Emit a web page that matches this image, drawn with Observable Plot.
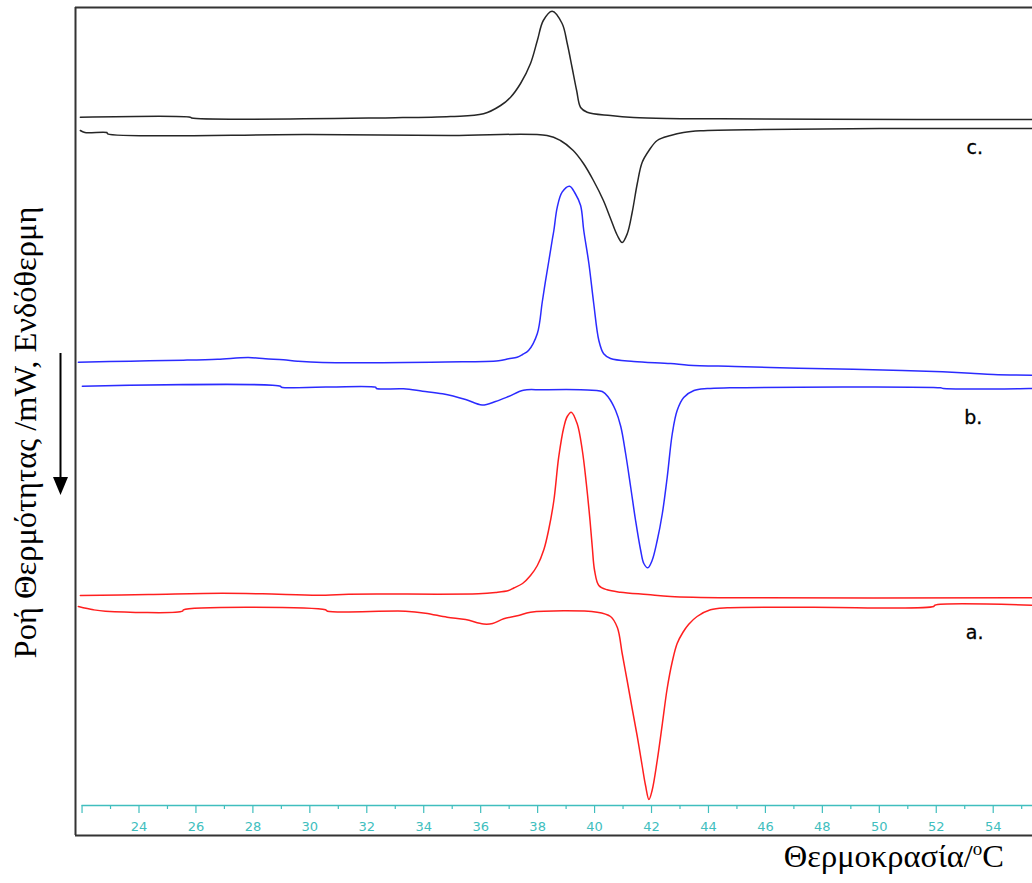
<!DOCTYPE html>
<html><head><meta charset="utf-8">
<script src="https://cdn.jsdelivr.net/npm/d3@7"></script>
<script src="https://cdn.jsdelivr.net/npm/@observablehq/plot@0.6"></script>
<style>body{margin:0;background:#fff}</style>
</head><body><div id="chart"></div>
<script>
// Temperature (°C) and heat flow (arbitrary units, endotherm down)
const cCoolT = [21.94, 25.8, 25.85, 33.0, 34.94, 36.1, 36.7, 37.05, 37.4, 37.75, 37.99, 38.2, 38.51, 38.86, 39.04, 39.21, 39.37, 39.51, 39.74, 40.56, 41.37, 42.55, 44.42, 48.0, 55.38];
const cCoolY = [688.3, 688.3, 687.5, 687.8, 689, 691.7, 700, 708.3, 722, 742, 765, 785, 794.3, 782, 762, 738, 715, 698, 693.3, 690, 688, 687, 686.7, 686.2, 686];
const cHeatT = [21.94, 22.1, 22.87, 22.9, 30.0, 34.94, 38.33, 38.8, 39.25, 39.61, 39.96, 40.31, 40.56, 40.8, 40.97, 41.15, 41.32, 41.5, 41.67, 41.91, 42.2, 42.67, 43.12, 43.72, 46.0, 50.0, 55.38];
const cHeatY = [675, 673, 673, 671.7, 671, 670, 670, 665, 655, 642, 625, 605, 587, 570, 563, 572, 593, 622, 643, 655, 665, 670, 673, 674.7, 676, 677, 677];

const bCoolT = [21.87, 23.7, 25.56, 26.76, 27.84, 28.44, 29.07, 29.57, 30.44, 34.76, 36.63, 36.98, 37.28, 37.47, 37.68, 37.99, 38.16, 38.27, 38.39, 38.51, 38.57, 38.69, 38.86, 39.12, 39.32, 39.51, 39.62, 39.8, 39.97, 40.15, 40.32, 40.56, 41.37, 42.67, 43.3, 44.93, 47.16, 49.09, 50.81, 52.22, 53.21, 54.01, 55.38];
const bCoolY = [443.3, 444.3, 445.3, 446.3, 448, 446.7, 445.7, 444.3, 443, 443.5, 444.7, 446.7, 448.3, 451, 455, 472, 503, 523.3, 544, 565, 575, 598.3, 613.3, 619.3, 612, 600, 575, 542, 502, 465, 451.7, 447, 444, 442, 440.3, 439, 437.3, 436.3, 435, 433.7, 432.3, 431, 430.3];
const bHeatT = [22.01, 28.97, 29.0, 32.31, 32.34, 33.29, 33.96, 34.66, 35.47, 36.05, 36.52, 36.98, 37.5, 38.17, 39.51, 40.27, 40.49, 40.74, 40.92, 41.09, 41.27, 41.44, 41.62, 41.73, 41.87, 42.02, 42.2, 42.38, 42.55, 42.73, 42.9, 43.13, 43.49, 43.96, 44.75, 52.15, 52.25, 55.38];
const bHeatY = [419.3, 419.3, 418.3, 418.3, 417, 416.7, 414.3, 411.7, 406, 400.5, 404, 409, 415.3, 415.7, 415.7, 414, 408, 395, 379, 352, 318, 285, 255, 242, 237.7, 245, 265, 292, 328, 372, 395, 408, 415, 417, 417.7, 417.7, 417, 417];

const aCoolT = [21.94, 24.33, 26.93, 28.9, 30.55, 31.36, 35.92, 36.52, 36.98, 37.16, 37.47, 37.75, 37.99, 38.22, 38.39, 38.57, 38.74, 38.92, 39.04, 39.18, 39.39, 39.57, 39.71, 39.84, 39.92, 40.0, 40.15, 40.44, 40.91, 41.85, 42.67, 44.75, 55.38];
const aCoolY = [210, 211, 212.3, 211.3, 210.3, 211.3, 211.7, 213, 215, 217.5, 222, 230, 240, 256, 276, 305, 348.3, 378.3, 389, 393.3, 381.7, 355, 322, 285, 258.3, 235, 220, 215.7, 213.3, 211, 209, 207.7, 207.7];
const aHeatT = [21.87, 22.4, 22.82, 25.53, 25.56, 30.55, 30.62, 33.36, 34.06, 34.82, 35.47, 36.1, 36.42, 36.81, 37.33, 37.75, 40.09, 40.56, 40.8, 40.97, 41.15, 41.32, 41.5, 41.67, 41.79, 41.91, 42.02, 42.2, 42.38, 42.55, 42.73, 42.9, 43.1, 43.3, 43.6, 44.07, 44.66, 47.58, 51.91, 51.95, 55.38];
const aHeatY = [199, 195.7, 194.3, 194.3, 195.7, 195.7, 194.3, 194.3, 192.3, 188.3, 186, 181.5, 182, 186.7, 190, 193.3, 193.3, 189, 178, 152, 124, 97, 69, 40, 20, 6, 15, 45, 81.7, 117, 144, 162, 173, 181, 189, 195.7, 197.7, 198.3, 199, 200.3, 200.3];

const seriesNames = ["a. cooling", "a. heating", "b. cooling", "b. heating", "c. cooling", "c. heating"];
const seriesColors = ["#ff1f1f", "#ff1f1f", "#2b2bff", "#2b2bff", "#262626", "#262626"];
const curveLabels = ["a.", "b.", "c."];
const curveLabelT = [53.35, 53.3, 53.35];
const curveLabelY = [173, 388, 658];
const tickValues = d3.range(22, 56);
const tickLabels = d3.range(24, 56, 2);
const xTitle = "Θερμοκρασία/";
const yTitle = "Ροή Θερμότητας /mW, Ενδόθερμη";

const seriesData = [[aCoolT, aCoolY], [aHeatT, aHeatY], [bCoolT, bCoolY], [bHeatT, bHeatY], [cCoolT, cCoolY], [cHeatT, cHeatY]]
  .map(([T, Y], i) => T.map((t, j) => ({T: t, v: Y[j], series: seriesNames[i]})));

const teal = "#40bebe";
const xDomain = [21.77, 55.38];
const yDomain = [-30, 798];

const plot = Plot.plot({
  width: 1032, height: 883,
  marginLeft: 75, marginRight: 0, marginTop: 7, marginBottom: 48,
  x: {domain: xDomain, axis: null},
  y: {domain: yDomain, axis: null},
  style: {background: "#fff", overflow: "visible"},
  marks: [
    Plot.ruleY([0], {x1: 22, x2: xDomain[1], stroke: teal, strokeWidth: 1.5}),
    Plot.ruleX(tickValues, {x: d => d, y1: 0, y2: d => d % 2 === 0 ? -8 : -4, stroke: teal, strokeWidth: 1.2}),
    Plot.text(tickLabels, {x: d => d, y: 0, dy: 21, text: d => String(d), fill: teal, fontSize: 13, fontFamily: "DejaVu Sans", lineAnchor: "middle"}),
    ...seriesData.map((rows, i) => Plot.line(rows, {x: "T", y: "v", stroke: seriesColors[i], strokeWidth: 1.5, curve: "catmull-rom"})),
    Plot.text(curveLabels, {x: (d, i) => curveLabelT[i], y: (d, i) => curveLabelY[i], text: d => d, fontSize: 19, fontFamily: "DejaVu Sans", fill: "#000", stroke: "#000", strokeWidth: 0.3}),
    Plot.ruleX([xDomain[0]], {stroke: "#333", strokeWidth: 2}),
    Plot.ruleY([yDomain[0], yDomain[1]], {stroke: "#333", strokeWidth: 2}),
    Plot.text([yTitle], {frameAnchor: "left", textAnchor: "middle", lineAnchor: "middle", dx: -50, dy: 11, rotate: -90, fontSize: 32.5, fontFamily: "Liberation Serif", fill: "#000"})
  ]
});

const svg = d3.select(plot);
const t = svg.append("text").attr("x", 1004).attr("y", 867).attr("text-anchor", "end")
  .style("font-family", "Liberation Serif").style("font-size", "32.5px").attr("fill", "#000");
t.append("tspan").text(xTitle);
t.append("tspan").attr("dy", -12).style("font-size", "19px").text("o");
t.append("tspan").attr("dy", 12).text("C");
svg.append("line").attr("x1", 60.5).attr("x2", 60.5).attr("y1", 353).attr("y2", 480).attr("stroke", "#000").attr("stroke-width", 2);
svg.append("path").attr("d", "M53,477 L68,477 L60.5,495 Z").attr("fill", "#000");

document.getElementById("chart").appendChild(plot);
</script></body></html>
